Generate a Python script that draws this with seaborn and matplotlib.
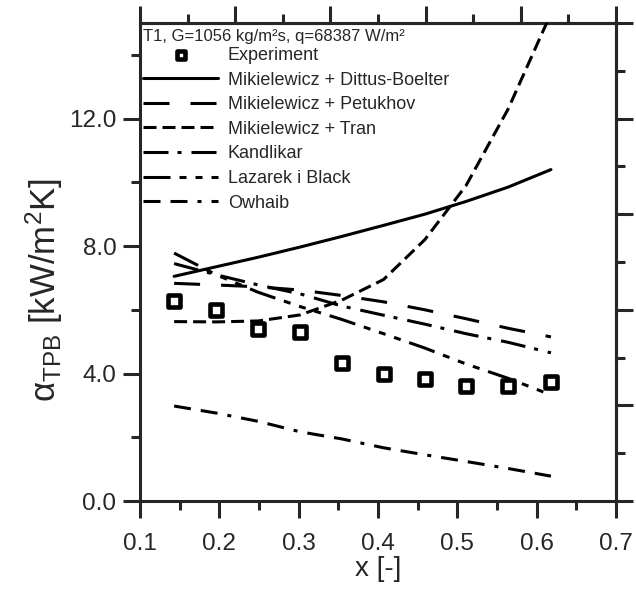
import matplotlib
matplotlib.use("Agg")
import matplotlib.pyplot as plt
import seaborn as sns
import pandas as pd
from matplotlib.ticker import FixedLocator, FixedFormatter

# ---------------- data ----------------
x_vals = [0.143, 0.196, 0.249, 0.302, 0.354, 0.407, 0.459, 0.511, 0.564, 0.618]
alpha_exp = [6.28, 5.99, 5.41, 5.30, 4.32, 3.98, 3.84, 3.61, 3.61, 3.74]

dittus = [7.05, 7.35, 7.65, 7.97, 8.30, 8.65, 9.00, 9.40, 9.85, 10.40]
petukhov = [6.83, 6.78, 6.72, 6.62, 6.45, 6.25, 6.00, 5.72, 5.42, 5.15]
tran = [5.63, 5.62, 5.65, 5.84, 6.30, 6.95, 8.20, 9.90, 12.30, 15.30]
kandlikar = [7.45, 7.10, 6.78, 6.50, 6.12, 5.83, 5.55, 5.25, 4.98, 4.65]
lazarek = [7.78, 7.10, 6.55, 6.10, 5.70, 5.25, 4.80, 4.30, 3.85, 3.33]
owhaib = [2.98, 2.76, 2.50, 2.17, 1.95, 1.67, 1.45, 1.24, 1.02, 0.78]

model_names = ["Mikielewicz + Dittus-Boelter", "Mikielewicz + Petukhov",
               "Mikielewicz + Tran", "Kandlikar", "Lazarek i Black", "Owhaib"]
model_values = [dittus, petukhov, tran, kandlikar, lazarek, owhaib]

title_text = "T1, G=1056 kg/m\u00b2s, q=68387 W/m\u00b2"
x_ticks = [0.1, 0.2, 0.3, 0.4, 0.5, 0.6, 0.7]
y_ticks = [0.0, 4.0, 8.0, 12.0]
y_minor = [2.0, 6.0, 10.0, 14.0]
top_major = [0.10, 0.22, 0.34, 0.46, 0.58, 0.70]
top_minor = [0.16, 0.28, 0.40, 0.52, 0.64]
right_major = [0, 3, 6, 9, 12, 15]
right_minor = [1.5, 4.5, 7.5, 10.5, 13.5]

# ---------------- style ----------------
sns.set_style("ticks")
plt.rcParams["font.family"] = ["Liberation Sans", "DejaVu Sans"]
plt.rcParams["mathtext.fontset"] = "custom"
plt.rcParams["mathtext.rm"] = "Liberation Sans"
plt.rcParams["mathtext.it"] = "Liberation Sans"
plt.rcParams["lines.scale_dashes"] = False

PT = 0.72  # points per pixel at dpi 100
dash_px = {
    "Mikielewicz + Dittus-Boelter": None,
    "Mikielewicz + Petukhov": (26, 21),
    "Mikielewicz + Tran": (13, 6),
    "Kandlikar": (25, 9, 4, 10),
    "Lazarek i Black": (27, 9, 7, 9, 7, 9, 7, 9),
    "Owhaib": (17, 10, 17, 10, 4, 10),
}

LW = 2.2
fig = plt.figure(figsize=(6.36, 5.9), dpi=100)
ax = fig.add_axes([140 / 636, 1 - 501 / 590, 476 / 636, 478 / 590])

df = pd.DataFrame({"x": x_vals * len(model_names),
                   "alpha": sum(model_values, []),
                   "model": sum([[m] * len(x_vals) for m in model_names], [])})

for name in model_names:
    sub = df[df["model"] == name]
    d = dash_px[name]
    ls = "-" if d is None else (0, tuple(v * PT for v in d))
    sns.lineplot(data=sub, x="x", y="alpha", ax=ax, color="black",
                 linewidth=LW, linestyle=ls, label=name, sort=False,
                 estimator=None, zorder=3)

sns.scatterplot(x=x_vals, y=alpha_exp, ax=ax, marker="s", s=72,
                color="white", edgecolor="black", linewidth=3.3,
                label="Experiment", zorder=5)

ax.set_xlim(0.1, 0.7)
ax.set_ylim(0, 15)

ax.xaxis.set_major_locator(FixedLocator(x_ticks))
ax.xaxis.set_major_formatter(FixedFormatter([f"{v:.1f}" for v in x_ticks]))
ax.xaxis.set_minor_locator(FixedLocator([0.15, 0.25, 0.35, 0.45, 0.55, 0.65]))
ax.yaxis.set_major_locator(FixedLocator(y_ticks))
ax.yaxis.set_major_formatter(FixedFormatter([f"{v:.1f}" for v in y_ticks]))
ax.yaxis.set_minor_locator(FixedLocator(y_minor))

ax.tick_params(which="major", direction="out", length=12, width=LW,
               labelsize=17.5, pad=5, top=False, right=False)
ax.tick_params(axis="x", which="major", pad=11)
ax.tick_params(which="minor", direction="out", length=6.8, width=LW,
               top=False, right=False)
for sp in ax.spines.values():
    sp.set_linewidth(LW)
    sp.set_visible(True)

secx = ax.secondary_xaxis("top")
secx.xaxis.set_major_locator(FixedLocator(top_major))
secx.xaxis.set_minor_locator(FixedLocator(top_minor))
secx.tick_params(which="major", direction="out", length=12, width=LW, labeltop=False)
secx.tick_params(which="minor", direction="out", length=6.8, width=LW)
secx.spines["top"].set_linewidth(LW)

secy = ax.secondary_yaxis("right")
secy.yaxis.set_major_locator(FixedLocator(right_major))
secy.yaxis.set_minor_locator(FixedLocator(right_minor))
secy.tick_params(which="major", direction="out", length=12, width=LW, labelright=False)
secy.tick_params(which="minor", direction="out", length=6.8, width=LW)
secy.spines["right"].set_linewidth(LW)

ax.set_xlabel("x [-]", fontsize=20, va="center")
ax.xaxis.set_label_coords(0.5, (501 - 569) / 478)
ax.set_ylabel(r"α$_{\mathrm{TPB}}$ [kW/m$^{2}$K]", fontsize=25, va="center")
ax.yaxis.set_label_coords((44 - 140) / 476, (501 - 290) / 478)

ax.text(3 / 476, (501 - 36) / 478, title_text, transform=ax.transAxes,
        fontsize=12, ha="left", va="center")

handles, labels = ax.get_legend_handles_labels()
order = ["Experiment"] + model_names
hmap = dict(zip(labels, handles))
fs = 13
leg = ax.legend([hmap[l] for l in order], order, loc="upper left",
                bbox_to_anchor=(3 / 476, (501 - 47) / 478), frameon=False,
                fontsize=fs, borderpad=0, borderaxespad=0,
                handlelength=75 / (fs / PT), handletextpad=0.55,
                labelspacing=0.42, markerscale=0.75, scatterpoints=1)

fig.savefig("out.png", dpi=100)
